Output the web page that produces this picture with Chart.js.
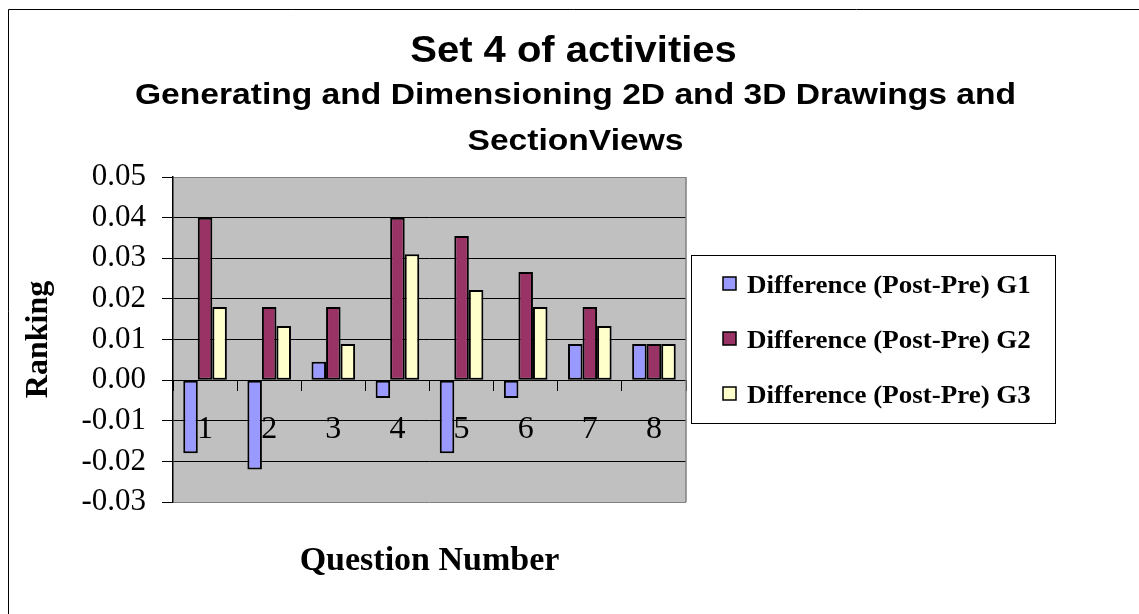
<!DOCTYPE html>
<html>
<head>
<meta charset="utf-8">
<script src="https://cdn.jsdelivr.net/npm/chart.js@4.4.1/dist/chart.umd.min.js"></script>
<style>
  body { margin: 0; background: #fff; }
  #wrap { width: 1139px; height: 614px; }
</style>
</head>
<body>
<div id="wrap"><canvas id="chart" width="1139" height="614"></canvas></div>
<script>
// question numbers and the three difference series
const questions = ['1', '2', '3', '4', '5', '6', '7', '8'];
const diffG1 = [-0.018, -0.022, 0.0045, -0.0044, -0.018, -0.0044, 0.0089, 0.0089];
const diffG2 = [0.040, 0.018, 0.018, 0.040, 0.0355, 0.0266, 0.018, 0.0089];
const diffG3 = [0.018, 0.0133, 0.0089, 0.031, 0.0222, 0.018, 0.0133, 0.0089];
const seriesNames = ['Difference (Post-Pre) G1', 'Difference (Post-Pre) G2', 'Difference (Post-Pre) G3'];
const yMin = -0.03, yMax = 0.05, yStep = 0.01;

const titleText = 'Set 4 of activities';
const subtitleLines = ['Generating and Dimensioning 2D and 3D Drawings and', 'SectionViews'];
const xTitle = 'Question Number';

const serif = "'Liberation Serif', 'Times New Roman', serif";
const sans = "'Liberation Sans', Arial, sans-serif";

function stretchText(ctx, text, x, y, font, sx, align) {
    ctx.save();
    ctx.font = font;
    ctx.textAlign = align || 'center';
    ctx.textBaseline = 'alphabetic';
    ctx.fillStyle = '#000';
    ctx.translate(x, y);
    ctx.scale(sx, 1);
    ctx.fillText(text, 0, 0);
    ctx.restore();
}

const excelLook = {
    id: 'excelLook',
    beforeDraw(chart) {
        const {ctx, chartArea: a} = chart;
        ctx.save();
        ctx.fillStyle = '#C0C0C0';
        ctx.fillRect(a.left, a.top, a.right - a.left, a.bottom - a.top);
        // outer frame (top and left edges visible)
        ctx.strokeStyle = '#000';
        ctx.lineWidth = 1;
        ctx.beginPath();
        ctx.moveTo(8.5, chart.height);
        ctx.lineTo(8.5, 9.5);
        ctx.lineTo(chart.width, 9.5);
        ctx.stroke();
        ctx.restore();
    },
    beforeDatasetsDraw(chart) {
        const {ctx, chartArea: a} = chart;
        ctx.save();
        ctx.strokeStyle = '#808080';
        ctx.lineWidth = 1.5;
        ctx.beginPath();
        ctx.moveTo(a.right, a.top);
        ctx.lineTo(a.right, a.bottom);
        ctx.stroke();
        ctx.restore();
    },
    afterDraw(chart) {
        const {ctx, chartArea: a} = chart;
        const cx = chart.width / 2 + 4;
        stretchText(ctx, titleText, cx, 62, 'bold 37px ' + sans, 1.08);
        stretchText(ctx, subtitleLines[0], cx + 2, 104, 'bold 30px ' + sans, 1.12);
        stretchText(ctx, subtitleLines[1], cx + 2, 150, 'bold 30px ' + sans, 1.12);
        stretchText(ctx, xTitle, (a.left + a.right) / 2, 570, 'bold 34px ' + serif, 1);

        // legend box
        const box = {left: 691, top: 255, right: 1055, bottom: 423};
        ctx.save();
        ctx.fillStyle = '#fff';
        ctx.fillRect(box.left, box.top, box.right - box.left, box.bottom - box.top);
        ctx.strokeStyle = '#000';
        ctx.lineWidth = 1;
        ctx.strokeRect(box.left + 0.5, box.top + 0.5, box.right - box.left, box.bottom - box.top);
        chart.data.datasets.forEach((ds, i) => {
            const base = 293 + i * 55;
            ctx.fillStyle = ds.backgroundColor;
            ctx.fillRect(723, base - 16, 13, 13);
            ctx.strokeStyle = '#000';
            ctx.lineWidth = 1.5;
            ctx.strokeRect(723, base - 16, 13, 13);
            stretchText(ctx, ds.label, 747, base, 'bold 25px ' + serif, 1.08, 'left');
        });
        ctx.restore();
    }
};

const chart = new Chart(document.querySelector('#chart').getContext('2d'), {
    type: 'bar',
    data: {
        labels: questions,
        datasets: [
            { label: seriesNames[0], data: diffG1, backgroundColor: '#9999FF' },
            { label: seriesNames[1], data: diffG2, backgroundColor: '#993366' },
            { label: seriesNames[2], data: diffG3, backgroundColor: '#FFFFCC' }
        ].map(d => Object.assign(d, {
            borderColor: '#000',
            borderWidth: 2,
            borderSkipped: false,
            categoryPercentage: 0.68,
            barPercentage: 1
        }))
    },
    options: {
        responsive: false,
        animation: false,
        layout: { padding: { left: 10, top: 177, right: 453, bottom: 112 } },
        plugins: {
            legend: { display: false },
            title: { display: false },
            tooltip: { enabled: false }
        },
        scales: {
            x: {
                position: { y: 0 },
                offset: true,
                grid: { display: true, drawOnChartArea: false, color: '#000', tickLength: 10 },
                border: { display: true, color: '#000', width: 1 },
                ticks: { color: '#000', padding: 20, font: { family: serif, size: 32 } }
            },
            y: {
                min: yMin,
                max: yMax,
                afterFit: s => { s.width = 163; },
                ticks: {
                    stepSize: yStep,
                    color: '#000',
                    padding: 16,
                    font: { family: serif, size: 31 },
                    callback: v => (Math.abs(v) < 1e-9 ? 0 : v).toFixed(2)
                },
                grid: {
                    color: c => (c.tick && (c.tick.value > yMax - 1e-6 || c.tick.value < yMin + 1e-6)) ? '#808080' : '#000',
                    tickColor: '#000',
                    tickLength: 11
                },
                border: { display: true, color: '#000', width: 1.5 },
                title: {
                    display: true,
                    text: 'Ranking',
                    color: '#000',
                    font: { family: serif, size: 32, weight: 'bold' },
                    padding: { top: 10, bottom: 0 }
                }
            }
        }
    },
    plugins: [excelLook]
});
</script>
</body>
</html>
